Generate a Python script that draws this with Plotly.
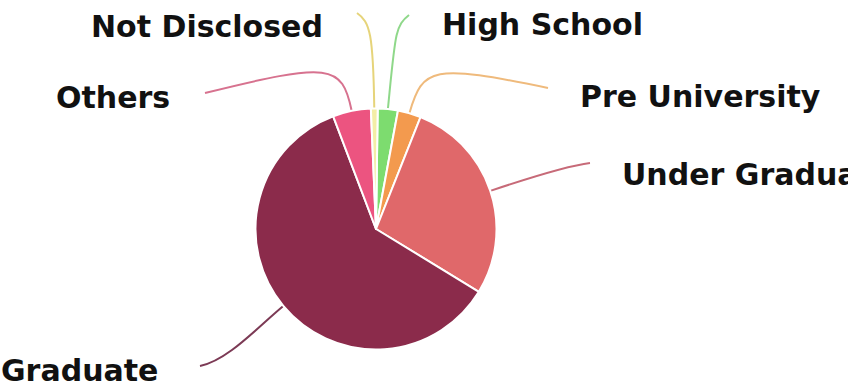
import math
import plotly.graph_objects as go

# ---- data ----
labels = ["High School", "Pre University", "Under Graduate", "Graduate", "Others", "Not Disclosed"]
values = [2.7, 3.1, 27.7, 60.5, 5.1, 0.9]
slice_colors = ["#7ddc6f", "#f39a4e", "#e0686a", "#8b2b4b", "#ec5480", "#f3eea6"]
line_colors = ["#8fd88a", "#efba7c", "#c76a78", "#7c3a55", "#d7728f", "#e6d47a"]

W, H = 848, 387
CX, CY, R = 376.0, 229.0, 120.5
ROT = 0.8  # degrees clockwise from 12 o'clock

def px(x):
    return x / W

def py(y):
    return 1 - y / H

fig = go.Figure()
fig.add_trace(go.Pie(
    labels=labels, values=values, sort=False, direction="clockwise",
    rotation=ROT, textinfo="none", hoverinfo="label+percent",
    marker=dict(colors=slice_colors, line=dict(color="white", width=2)),
    domain=dict(x=[px(CX - R), px(CX + R)], y=[py(CY + R), py(CY - R)]),
    showlegend=False,
))

# label layout: (anchor, x, y, line control points after start: P1, P2, P3)
label_layout = {
    "High School":    ("left", 440, 25, (None, (395, 26), (409, 15)), 75),
    "Pre University": ("left", 578, 96, (None, (432, 64), (548, 88)), 48),
    "Under Graduate": ("left", 620, 174, (None, (565, 166), (590, 163)), 35),
    "Graduate":       ("right", 160, 370, (None, (228, 360), (200, 366)), 35),
    "Others":         ("right", 172, 98, (None, (330, 62), (205, 93)), 48),
    "Not Disclosed":  ("right", 325, 26, (None, (370, 22), (357, 13)), 75),
}

total = sum(values)
cum = 0.0
shapes = []
annotations = []
for lab, val, lc in zip(labels, values, line_colors):
    mid = ROT + (cum + val / 2) / total * 360.0
    cum += val
    a = math.radians(mid)
    dx, dy = math.sin(a), -math.cos(a)
    x0, y0 = CX + R * dx, CY + R * dy
    anchor, lx, ly, (_, p2, p3), arm = label_layout[lab]
    x1, y1 = x0 + arm * dx, y0 + arm * dy
    path = (f"M {px(x0)},{py(y0)} C {px(x1)},{py(y1)} "
            f"{px(p2[0])},{py(p2[1])} {px(p3[0])},{py(p3[1])}")
    shapes.append(dict(type="path", xref="paper", yref="paper", path=path,
                       line=dict(color=lc, width=2), layer="below"))
    annotations.append(dict(
        text=lab, x=px(lx), y=py(ly), xref="paper", yref="paper",
        xanchor=anchor, yanchor="middle", showarrow=False,
        font=dict(family="DejaVu Sans", size=30, color="#111111", weight="bold"),
    ))

fig.update_layout(
    width=W, height=H, margin=dict(l=0, r=0, t=0, b=0),
    paper_bgcolor="white", plot_bgcolor="white",
    shapes=shapes, annotations=annotations,
)

fig.write_html("out.html")
